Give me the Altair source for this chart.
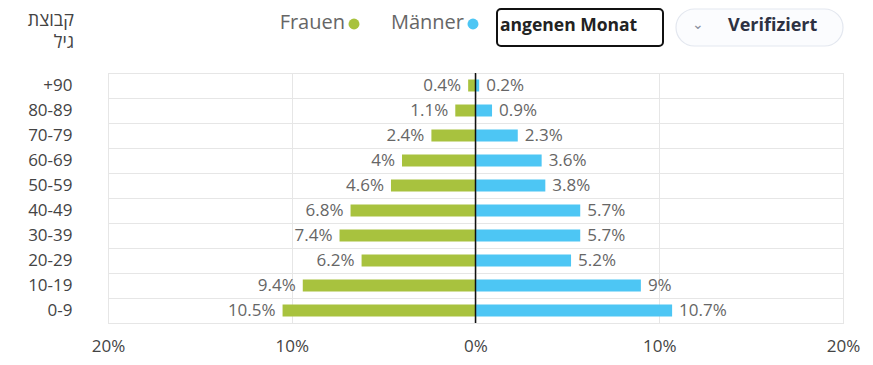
import altair as alt
import pandas as pd

ages = ["+90", "80-89", "70-79", "60-69", "50-59", "40-49", "30-39", "20-29", "10-19", "0-9"]
frauen = [0.4, 1.1, 2.4, 4, 4.6, 6.8, 7.4, 6.2, 9.4, 10.5]
maenner = [0.2, 0.9, 2.3, 3.6, 3.8, 5.7, 5.7, 5.2, 9, 10.7]
sexes = ["Frauen", "Männer"]
colors = ["#a8c23e", "#4dc6f4"]
x_ticks = [-20, -10, 0, 10, 20]

rows = []
for a, f, m in zip(ages, frauen, maenner):
    rows.append({"age": a, "sex": "Frauen", "value": f, "signed": -f, "label": f"{f:g}%"})
    rows.append({"age": a, "sex": "Männer", "value": m, "signed": m, "label": f"{m:g}%"})
df = pd.DataFrame(rows)

FONT = "Open Sans"

xscale = alt.Scale(domain=[-20, 20], nice=False)
yenc = alt.Y("age:N", sort=ages, scale=alt.Scale(paddingInner=0, paddingOuter=0),
             axis=alt.Axis(title=None, tickBand="extent", grid=True, gridColor="#e6e6e6",
                           domain=False, ticks=False, labelPadding=36, labelFontSize=17,
                           labelColor="#444", labelFont=FONT))

bars = alt.Chart(df).mark_bar(size=12).encode(
    x=alt.X("signed:Q", scale=xscale,
            axis=alt.Axis(values=x_ticks, title=None, labelExpr="abs(datum.value) + '%'",
                          grid=True, gridColor="#e6e6e6", domain=False, ticks=False,
                          labelFlush=False, labelBound=False,
                          labelPadding=15, labelFontSize=17, labelColor="#444", labelFont=FONT)),
    y=yenc,
    color=alt.Color("sex:N", scale=alt.Scale(domain=sexes, range=colors), legend=None),
)

txt_f = alt.Chart(df).transform_filter(alt.datum.sex == "Frauen").mark_text(
    align="right", baseline="middle", dx=-7, fontSize=17, color="#666", font=FONT
).encode(x=alt.X("signed:Q", scale=xscale), y=alt.Y("age:N", sort=ages), text="label:N")

txt_m = alt.Chart(df).transform_filter(alt.datum.sex == "Männer").mark_text(
    align="left", baseline="middle", dx=7, fontSize=17, color="#666", font=FONT
).encode(x=alt.X("signed:Q", scale=xscale), y=alt.Y("age:N", sort=ages), text="label:N")

zero = alt.Chart(pd.DataFrame({"z": [0]})).mark_rule(color="#111", strokeWidth=1.5).encode(
    x=alt.X("z:Q", scale=xscale)
)

one = pd.DataFrame({"a": [0]})

# legend (custom, text before dot)
leg_df = pd.DataFrame({"name": sexes, "tx": [237, 356], "cx": [246, 365], "col": colors})
leg_text = alt.Chart(leg_df).mark_text(align="right", baseline="middle", fontSize=20,
                                       color="#666", font=FONT).encode(
    x=alt.X("tx:Q", scale=None), y=alt.value(-50), text="name:N")
leg_dot = alt.Chart(leg_df).mark_circle(size=120, opacity=1).encode(
    x=alt.X("cx:Q", scale=None), y=alt.value(-49), color=alt.Color("col:N", scale=None))

# y title (Hebrew)
ytitle_df = pd.DataFrame({"t": ["קבוצת", "גיל"], "yy": [-52, -30]})
ytitle = alt.Chart(ytitle_df).mark_text(align="right", baseline="middle", fontSize=18,
                                        color="#444", font=FONT).encode(
    x=alt.value(-34), y=alt.Y("yy:Q", scale=None), text="t:N")

# UI buttons
btn1 = alt.Chart(one).mark_rect(fill="white", stroke="#111", strokeWidth=2, cornerRadius=4).encode(
    x=alt.value(389), x2=alt.value(555), y=alt.value(-64), y2=alt.value(-27))
btn1_t = alt.Chart(one).mark_text(align="left", baseline="middle", fontSize=17.5, fontWeight="bold",
                                  color="#222", font=FONT, text="angenen Monat").encode(
    x=alt.value(392), y=alt.value(-47))
btn2 = alt.Chart(one).mark_rect(fill="#fbfcfe", stroke="#e3e7ef", strokeWidth=1.2, cornerRadius=19).encode(
    x=alt.value(568), x2=alt.value(735), y=alt.value(-64), y2=alt.value(-27))
btn2_c = alt.Chart(one).mark_text(align="center", baseline="middle", fontSize=14,
                                  color="#8a90a0", font=FONT, text="⌄").encode(
    x=alt.value(590), y=alt.value(-48))
btn2_t = alt.Chart(one).mark_text(align="left", baseline="middle", fontSize=18, fontWeight="bold",
                                  color="#2d3142", font=FONT, text="Verifiziert").encode(
    x=alt.value(620), y=alt.value(-47))

chart = alt.layer(
    bars, zero, txt_f, txt_m, leg_text, leg_dot, ytitle, btn1, btn1_t, btn2, btn2_c, btn2_t
).properties(
    width=735, height=250,
    autosize=alt.AutoSizeParams(type="none"),
    padding={"left": 100, "top": 65, "right": 20, "bottom": 40},
).configure_view(stroke=None).configure(background="white")

chart.save("out.html", embed_options={"renderer": "svg", "actions": False})
